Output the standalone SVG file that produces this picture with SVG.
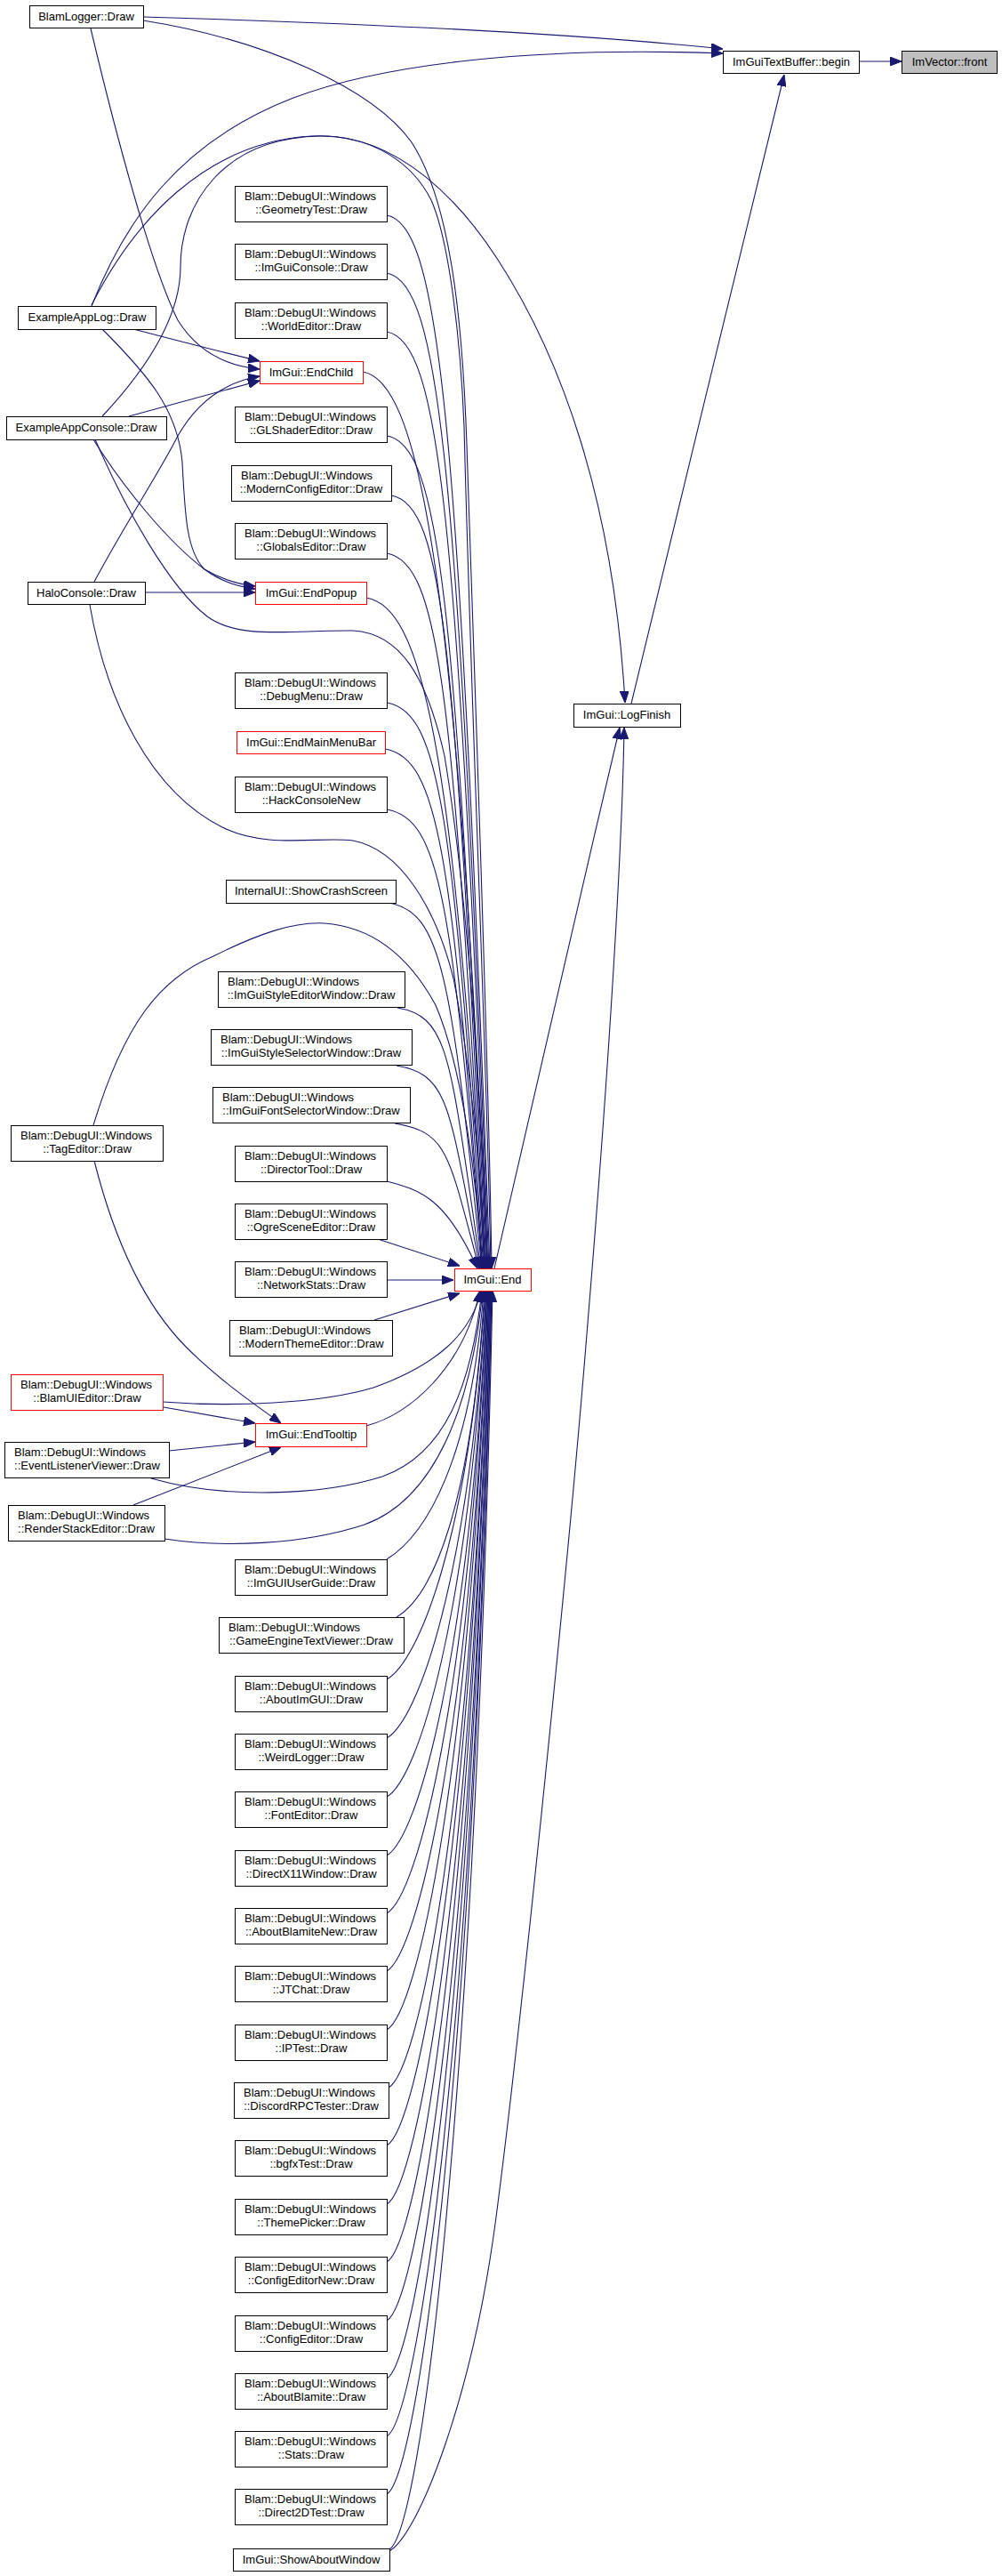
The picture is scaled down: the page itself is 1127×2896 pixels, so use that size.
<svg xmlns="http://www.w3.org/2000/svg" width="1127" height="2896" viewBox="0 0 1127 2896">
<style>
.n rect{fill:#fff;stroke:#000;stroke-width:1}
.n.r rect{stroke:#f00}
.n.g rect{fill:#bfbfbf}
text{font-family:"Liberation Sans",Arial,Helvetica,sans-serif;font-size:13px;fill:#000}
.c{text-anchor:middle}
#edges path{fill:none;stroke:#191970;stroke-width:1.1;marker-end:url(#ah)}
</style>
<defs>
<marker id="ah" viewBox="0 0 13 10" refX="13" refY="5" markerWidth="13" markerHeight="10" markerUnits="userSpaceOnUse" orient="auto">
<path d="M0,0 L13,5 L0,10 z" fill="#191970" stroke="#191970" stroke-width="1"/>
</marker>
</defs>
<rect width="1127" height="2896" fill="#fff"/>
<g id="edges">
<path d="M966,69 L1014,69"/>
<path d="M710,791 C740,660 840,260 882,84"/>
<path d="M161,19 C400,26 650,38 813,55"/>
<path d="M103,344 C140,250 200,160 330,110 C430,72 600,52 813,60"/>
<path d="M161,23 C300,45 420,100 463,160 C505,225 520,350 525,500 C535,800 550,1200 553,1426"/>
<path d="M103,343 C150,250 230,160 350,153 C420,150 465,185 485,225 C505,270 518,380 522,480 C530,800 548,1200 552,1426"/>
<path d="M115,468 C160,420 203,360 203,300 C203,230 250,155 360,153 C450,152 520,230 560,292 C630,400 690,560 703,790"/>
<path d="M107,494 C140,570 190,660 233,693 C270,720 330,708 397,709 C450,712 480,760 500,850 C525,1000 543,1250 548,1426"/>
<path d="M101,680 C120,790 170,890 250,930 C300,955 360,940 397,945 C450,955 490,1020 510,1100 C530,1200 542,1330 546,1426"/>
<path d="M105,1265 C140,1150 180,1100 240,1075 C290,1050 330,1036 365,1038 C420,1042 460,1075 490,1130 C520,1200 537,1330 542,1426"/>
<path d="M102,32 C130,150 170,300 200,360 C225,400 260,412 292,415"/>
<path d="M150,370 C200,383 250,396 292,406"/>
<path d="M145,468 L292,428"/>
<path d="M106,654 C140,590 180,530 200,490 C220,455 250,430 292,423"/>
<path d="M115,370 C165,420 200,460 205,520 C208,580 210,620 230,640 C250,655 270,660 287,662"/>
<path d="M105,494 C140,550 190,610 230,640 C250,652 270,657 287,659"/>
<path d="M163,666 L287,666"/>
<path d="M106,1305 C130,1400 165,1470 210,1515 C245,1550 285,1578 316,1600"/>
<path d="M184,1582 L287,1600"/>
<path d="M190,1631 L287,1621"/>
<path d="M150,1692 L316,1627"/>
<path d="M435,242 C495,252 516,479 551,1426"/>
<path d="M435,307 C495,317 515,531 550,1426"/>
<path d="M435,373 C495,383 514,584 549,1426"/>
<path d="M408,418 C468,428 513,620 548,1426"/>
<path d="M435,490 C495,500 512,677 547,1426"/>
<path d="M440,557 C500,567 511,731 546,1426"/>
<path d="M435,622 C495,632 510,783 545,1426"/>
<path d="M412,672 C472,682 510,823 545,1426"/>
<path d="M435,790 C495,800 509,917 544,1426"/>
<path d="M433,842 C493,852 508,959 543,1426"/>
<path d="M435,910 C495,920 508,1013 543,1426"/>
<path d="M437,1015 C497,1025 507,1097 542,1426"/>
<path d="M447,1133 C507,1143 506,1192 541,1426"/>
<path d="M446,1198 C506,1208 505,1244 540,1426"/>
<path d="M444,1263 C504,1273 504,1296 539,1426"/>
<path d="M435,1328 C474,1338 502,1348 537,1426"/>
<path d="M425,1393 L517,1423"/>
<path d="M435,1439 L510,1439"/>
<path d="M421,1484 L517,1454"/>
<path d="M412,1603 C460,1590 520,1540 540,1451"/>
<path d="M183,1576 C260,1582 360,1578 420,1560 C490,1535 530,1500 541,1451"/>
<path d="M170,1662 C250,1685 360,1682 430,1660 C500,1635 530,1560 542,1451"/>
<path d="M185,1730 C250,1740 340,1737 410,1714 C490,1685 530,1580 543,1451"/>
<path d="M435,1753 C480,1725 530,1640 544,1451"/>
<path d="M446,1818 C485,1795 530,1700 545,1451"/>
<path d="M435,1888 C470,1868 526,1735 546,1451"/>
<path d="M435,1954 C470,1934 527,1778 547,1451"/>
<path d="M435,2020 C470,2000 527,1821 547,1451"/>
<path d="M435,2086 C470,2066 528,1864 548,1451"/>
<path d="M435,2151 C470,2131 528,1906 548,1451"/>
<path d="M435,2216 C470,2196 529,1948 549,1451"/>
<path d="M435,2282 C470,2262 529,1991 549,1451"/>
<path d="M437,2347 C472,2327 530,2033 550,1451"/>
<path d="M435,2412 C470,2392 530,2076 550,1451"/>
<path d="M435,2478 C470,2458 531,2119 551,1451"/>
<path d="M435,2543 C470,2523 531,2161 551,1451"/>
<path d="M435,2609 C470,2589 532,2204 552,1451"/>
<path d="M435,2674 C470,2654 532,2246 552,1451"/>
<path d="M435,2739 C470,2719 533,2288 553,1451"/>
<path d="M435,2804 C470,2784 533,2331 553,1451"/>
<path d="M438,2866 C473,2846 534,2371 554,1451"/>
<path d="M556,1426 C575,1340 640,1060 697,818"/>
<path d="M438,2868 C470,2850 530,2700 557,2500 C585,2290 640,1750 660,1500 C685,1200 700,950 702,818"/>
</g>
<g id="n_front" class="n g"><rect x="1014.5" y="57.5" width="107" height="25"/><text class="c" x="1068" y="74">ImVector::front</text></g>
<g id="n_begin" class="n"><rect x="813.5" y="57.5" width="153" height="25"/><text class="c" x="890" y="74">ImGuiTextBuffer::begin</text></g>
<g id="n_logfinish" class="n"><rect x="645.5" y="791.5" width="120" height="26"/><text class="c" x="705" y="808">ImGui::LogFinish</text></g>
<g id="n_end" class="n r"><rect x="511.5" y="1426.5" width="86" height="25"/><text class="c" x="554" y="1443">ImGui::End</text></g>
<g id="n_blamlogger" class="n"><rect x="33.5" y="6.5" width="128" height="25"/><text class="c" x="97" y="23">BlamLogger::Draw</text></g>
<g id="n_applog" class="n"><rect x="20.5" y="344.5" width="155" height="26"/><text class="c" x="98" y="361">ExampleAppLog::Draw</text></g>
<g id="n_appconsole" class="n"><rect x="7.5" y="468.5" width="180" height="26"/><text class="c" x="97" y="485">ExampleAppConsole::Draw</text></g>
<g id="n_halo" class="n"><rect x="31.5" y="654.5" width="132" height="25"/><text class="c" x="97" y="671">HaloConsole::Draw</text></g>
<g id="n_tag" class="n"><rect x="12.5" y="1265.5" width="171" height="40"/><text x="23" y="1281">Blam::DebugUI::Windows</text><text class="c" x="98" y="1296">::TagEditor::Draw</text></g>
<g id="n_blamui" class="n r"><rect x="12.5" y="1545.5" width="171" height="40"/><text x="23" y="1561">Blam::DebugUI::Windows</text><text class="c" x="98" y="1576">::BlamUIEditor::Draw</text></g>
<g id="n_evtlist" class="n"><rect x="5.5" y="1621.5" width="185" height="40"/><text x="16" y="1637">Blam::DebugUI::Windows</text><text class="c" x="98" y="1652">::EventListenerViewer::Draw</text></g>
<g id="n_render" class="n"><rect x="9.5" y="1692.5" width="176" height="40"/><text x="20" y="1708">Blam::DebugUI::Windows</text><text class="c" x="97" y="1723">::RenderStackEditor::Draw</text></g>
<g id="n_geom" class="n"><rect x="264.5" y="209.5" width="171" height="40"/><text x="275" y="225">Blam::DebugUI::Windows</text><text class="c" x="350" y="240">::GeometryTest::Draw</text></g>
<g id="n_imguicon" class="n"><rect x="264.5" y="274.5" width="171" height="40"/><text x="275" y="290">Blam::DebugUI::Windows</text><text class="c" x="350" y="305">::ImGuiConsole::Draw</text></g>
<g id="n_world" class="n"><rect x="264.5" y="340.5" width="171" height="40"/><text x="275" y="356">Blam::DebugUI::Windows</text><text class="c" x="350" y="371">::WorldEditor::Draw</text></g>
<g id="n_endchild" class="n r"><rect x="292.5" y="406.5" width="116" height="25"/><text class="c" x="350" y="423">ImGui::EndChild</text></g>
<g id="n_glshader" class="n"><rect x="264.5" y="457.5" width="171" height="40"/><text x="275" y="473">Blam::DebugUI::Windows</text><text class="c" x="350" y="488">::GLShaderEditor::Draw</text></g>
<g id="n_modcfg" class="n"><rect x="260.5" y="523.5" width="180" height="40"/><text x="271" y="539">Blam::DebugUI::Windows</text><text class="c" x="350" y="554">::ModernConfigEditor::Draw</text></g>
<g id="n_globals" class="n"><rect x="264.5" y="588.5" width="171" height="40"/><text x="275" y="604">Blam::DebugUI::Windows</text><text class="c" x="350" y="619">::GlobalsEditor::Draw</text></g>
<g id="n_endpopup" class="n r"><rect x="287.5" y="654.5" width="125" height="25"/><text class="c" x="350" y="671">ImGui::EndPopup</text></g>
<g id="n_debugmenu" class="n"><rect x="264.5" y="756.5" width="171" height="40"/><text x="275" y="772">Blam::DebugUI::Windows</text><text class="c" x="350" y="787">::DebugMenu::Draw</text></g>
<g id="n_endmmb" class="n r"><rect x="266.5" y="822.5" width="167" height="25"/><text class="c" x="350" y="839">ImGui::EndMainMenuBar</text></g>
<g id="n_hack" class="n"><rect x="264.5" y="873.5" width="171" height="40"/><text x="275" y="889">Blam::DebugUI::Windows</text><text class="c" x="350" y="904">::HackConsoleNew</text></g>
<g id="n_crash" class="n"><rect x="254.5" y="989.5" width="191" height="26"/><text class="c" x="350" y="1006">InternalUI::ShowCrashScreen</text></g>
<g id="n_styleed" class="n"><rect x="245.5" y="1092.5" width="210" height="40"/><text x="256" y="1108">Blam::DebugUI::Windows</text><text class="c" x="350" y="1123">::ImGuiStyleEditorWindow::Draw</text></g>
<g id="n_stylesel" class="n"><rect x="237.5" y="1157.5" width="226" height="40"/><text x="248" y="1173">Blam::DebugUI::Windows</text><text class="c" x="350" y="1188">::ImGuiStyleSelectorWindow::Draw</text></g>
<g id="n_fontsel" class="n"><rect x="239.5" y="1222.5" width="222" height="40"/><text x="250" y="1238">Blam::DebugUI::Windows</text><text class="c" x="350" y="1253">::ImGuiFontSelectorWindow::Draw</text></g>
<g id="n_director" class="n"><rect x="264.5" y="1288.5" width="171" height="40"/><text x="275" y="1304">Blam::DebugUI::Windows</text><text class="c" x="350" y="1319">::DirectorTool::Draw</text></g>
<g id="n_ogre" class="n"><rect x="264.5" y="1353.5" width="171" height="40"/><text x="275" y="1369">Blam::DebugUI::Windows</text><text class="c" x="350" y="1384">::OgreSceneEditor::Draw</text></g>
<g id="n_netstats" class="n"><rect x="264.5" y="1418.5" width="171" height="40"/><text x="275" y="1434">Blam::DebugUI::Windows</text><text class="c" x="350" y="1449">::NetworkStats::Draw</text></g>
<g id="n_modtheme" class="n"><rect x="258.5" y="1484.5" width="183" height="40"/><text x="269" y="1500">Blam::DebugUI::Windows</text><text class="c" x="350" y="1515">::ModernThemeEditor::Draw</text></g>
<g id="n_endtooltip" class="n r"><rect x="287.5" y="1600.5" width="125" height="26"/><text class="c" x="350" y="1617">ImGui::EndTooltip</text></g>
<g id="n_userguide" class="n"><rect x="264.5" y="1753.5" width="171" height="40"/><text x="275" y="1769">Blam::DebugUI::Windows</text><text class="c" x="350" y="1784">::ImGUIUserGuide::Draw</text></g>
<g id="n_getv" class="n"><rect x="246.5" y="1818.5" width="208" height="40"/><text x="257" y="1834">Blam::DebugUI::Windows</text><text class="c" x="350" y="1849">::GameEngineTextViewer::Draw</text></g>
<g id="n_aboutimgui" class="n"><rect x="264.5" y="1884.5" width="171" height="40"/><text x="275" y="1900">Blam::DebugUI::Windows</text><text class="c" x="350" y="1915">::AboutImGUI::Draw</text></g>
<g id="n_weird" class="n"><rect x="264.5" y="1949.5" width="171" height="40"/><text x="275" y="1965">Blam::DebugUI::Windows</text><text class="c" x="350" y="1980">::WeirdLogger::Draw</text></g>
<g id="n_fonted" class="n"><rect x="264.5" y="2014.5" width="171" height="40"/><text x="275" y="2030">Blam::DebugUI::Windows</text><text class="c" x="350" y="2045">::FontEditor::Draw</text></g>
<g id="n_dx11" class="n"><rect x="264.5" y="2080.5" width="171" height="40"/><text x="275" y="2096">Blam::DebugUI::Windows</text><text class="c" x="350" y="2111">::DirectX11Window::Draw</text></g>
<g id="n_aboutbn" class="n"><rect x="264.5" y="2145.5" width="171" height="40"/><text x="275" y="2161">Blam::DebugUI::Windows</text><text class="c" x="350" y="2176">::AboutBlamiteNew::Draw</text></g>
<g id="n_jtchat" class="n"><rect x="264.5" y="2210.5" width="171" height="40"/><text x="275" y="2226">Blam::DebugUI::Windows</text><text class="c" x="350" y="2241">::JTChat::Draw</text></g>
<g id="n_iptest" class="n"><rect x="264.5" y="2276.5" width="171" height="40"/><text x="275" y="2292">Blam::DebugUI::Windows</text><text class="c" x="350" y="2307">::IPTest::Draw</text></g>
<g id="n_discord" class="n"><rect x="263.5" y="2341.5" width="174" height="40"/><text x="274" y="2357">Blam::DebugUI::Windows</text><text class="c" x="350" y="2372">::DiscordRPCTester::Draw</text></g>
<g id="n_bgfx" class="n"><rect x="264.5" y="2406.5" width="171" height="40"/><text x="275" y="2422">Blam::DebugUI::Windows</text><text class="c" x="350" y="2437">::bgfxTest::Draw</text></g>
<g id="n_theme" class="n"><rect x="264.5" y="2472.5" width="171" height="40"/><text x="275" y="2488">Blam::DebugUI::Windows</text><text class="c" x="350" y="2503">::ThemePicker::Draw</text></g>
<g id="n_cfgnew" class="n"><rect x="264.5" y="2537.5" width="171" height="40"/><text x="275" y="2553">Blam::DebugUI::Windows</text><text class="c" x="350" y="2568">::ConfigEditorNew::Draw</text></g>
<g id="n_cfg" class="n"><rect x="264.5" y="2603.5" width="171" height="40"/><text x="275" y="2619">Blam::DebugUI::Windows</text><text class="c" x="350" y="2634">::ConfigEditor::Draw</text></g>
<g id="n_aboutb" class="n"><rect x="264.5" y="2668.5" width="171" height="40"/><text x="275" y="2684">Blam::DebugUI::Windows</text><text class="c" x="350" y="2699">::AboutBlamite::Draw</text></g>
<g id="n_stats" class="n"><rect x="264.5" y="2733.5" width="171" height="40"/><text x="275" y="2749">Blam::DebugUI::Windows</text><text class="c" x="350" y="2764">::Stats::Draw</text></g>
<g id="n_d2d" class="n"><rect x="264.5" y="2798.5" width="171" height="40"/><text x="275" y="2814">Blam::DebugUI::Windows</text><text class="c" x="350" y="2829">::Direct2DTest::Draw</text></g>
<g id="n_showabout" class="n"><rect x="262.5" y="2865.5" width="176" height="25"/><text class="c" x="350" y="2882">ImGui::ShowAboutWindow</text></g>
</svg>
